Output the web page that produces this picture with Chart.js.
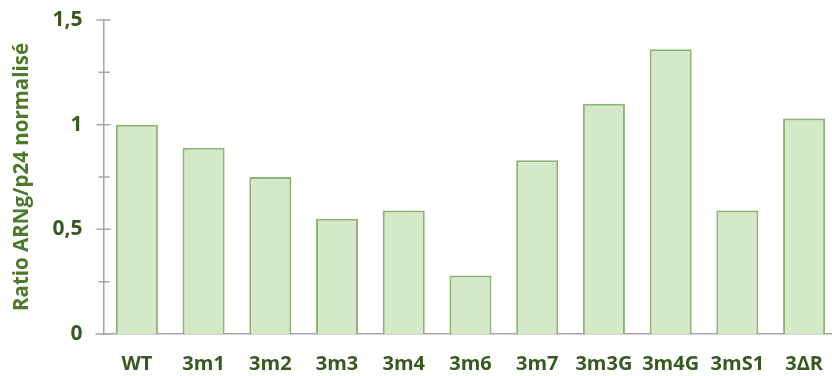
<!DOCTYPE html>
<html lang="fr">
<head>
<meta charset="utf-8">
<title>Ratio ARNg/p24 normalisé</title>
<script src="https://cdn.jsdelivr.net/npm/chart.js@4/dist/chart.umd.min.js"></script>
<style>
  html, body { margin: 0; padding: 0; background: #fff; overflow: hidden; }
  #wrap { position: relative; width: 841px; height: 376px; }
</style>
</head>
<body>
<div id="wrap"><canvas id="ratioChart"></canvas></div>
<script>
const categories = ['WT', '3m1', '3m2', '3m3', '3m4', '3m6', '3m7', '3m3G', '3m4G', '3mS1', '3\u0394R'];
const ratios = [1.0, 0.89, 0.75, 0.55, 0.59, 0.28, 0.83, 1.10, 1.36, 0.59, 1.03];
const yTicks = [0, 0.25, 0.5, 0.75, 1, 1.25, 1.5];

const AXIS_GREY = '#a6a6a6';
const TEXT_GREEN = '#375a20';
const TITLE_GREEN = '#4a7a2a';
const FONT = "'Open Sans', sans-serif";

const isMajor = v => Math.abs(v * 2 - Math.round(v * 2)) < 1e-6;

// tick marks crossing the y axis, plus the little stub of the x axis left of it
const axisMarks = {
    id: 'axisMarks',
    afterDraw(chart) {
        const { ctx, scales: { y }, chartArea } = chart;
        const x0 = chartArea.left;
        ctx.save();
        ctx.strokeStyle = AXIS_GREY;
        ctx.lineWidth = 1.5;
        ctx.beginPath();
        yTicks.forEach(v => {
            const py = y.getPixelForValue(v);
            ctx.moveTo(x0 - (isMajor(v) ? 7 : 5), py);
            ctx.lineTo(x0 + (isMajor(v) ? 7 : 6), py);
        });
        const base = y.getPixelForValue(0);
        ctx.moveTo(x0 - 8, base);
        ctx.lineTo(x0, base);
        ctx.stroke();
        ctx.restore();
    }
};

new Chart(document.getElementById('ratioChart'), {
    type: 'bar',
    data: {
        labels: categories,
        datasets: [{
            data: ratios,
            backgroundColor: '#d5e8c7',
            borderColor: '#8db474',
            borderWidth: 2,
            borderSkipped: 'bottom',
            categoryPercentage: 1,
            barPercentage: 0.63
        }]
    },
    options: {
        responsive: true,
        maintainAspectRatio: false,
        animation: false,
        layout: { padding: { top: 20, left: 0, right: 0, bottom: 0 } },
        plugins: {
            legend: { display: false },
            tooltip: { enabled: false }
        },
        scales: {
            x: {
                grid: { display: false, drawTicks: false },
                border: { color: AXIS_GREY, width: 1.5 },
                ticks: {
                    padding: 18,
                    color: TEXT_GREEN,
                    font: { family: FONT, weight: 'bold', size: 20 }
                },
                afterFit: s => { s.height = 42; }
            },
            y: {
                min: 0,
                max: 1.5,
                afterBuildTicks: s => { s.ticks = yTicks.map(v => ({ value: v })); },
                grid: { display: false, drawTicks: false },
                border: { color: AXIS_GREY, width: 1.5 },
                ticks: {
                    padding: 21,
                    color: TEXT_GREEN,
                    font: { family: FONT, weight: 'bold', size: 21 },
                    callback: v => isMajor(v) ? String(v).replace('.', ',') : ''
                },
                title: {
                    display: true,
                    text: 'Ratio ARNg/p24 normalisé',
                    color: TITLE_GREEN,
                    font: { family: FONT, weight: 'bold', size: 20.5 },
                    padding: { top: 10, bottom: 0 }
                },
                afterFit: s => {
                    s.width = 103.5;
                    s.paddingTop = 0;
                    s.paddingBottom = 0;
                }
            }
        }
    },
    plugins: [axisMarks]
});
</script>
</body>
</html>
